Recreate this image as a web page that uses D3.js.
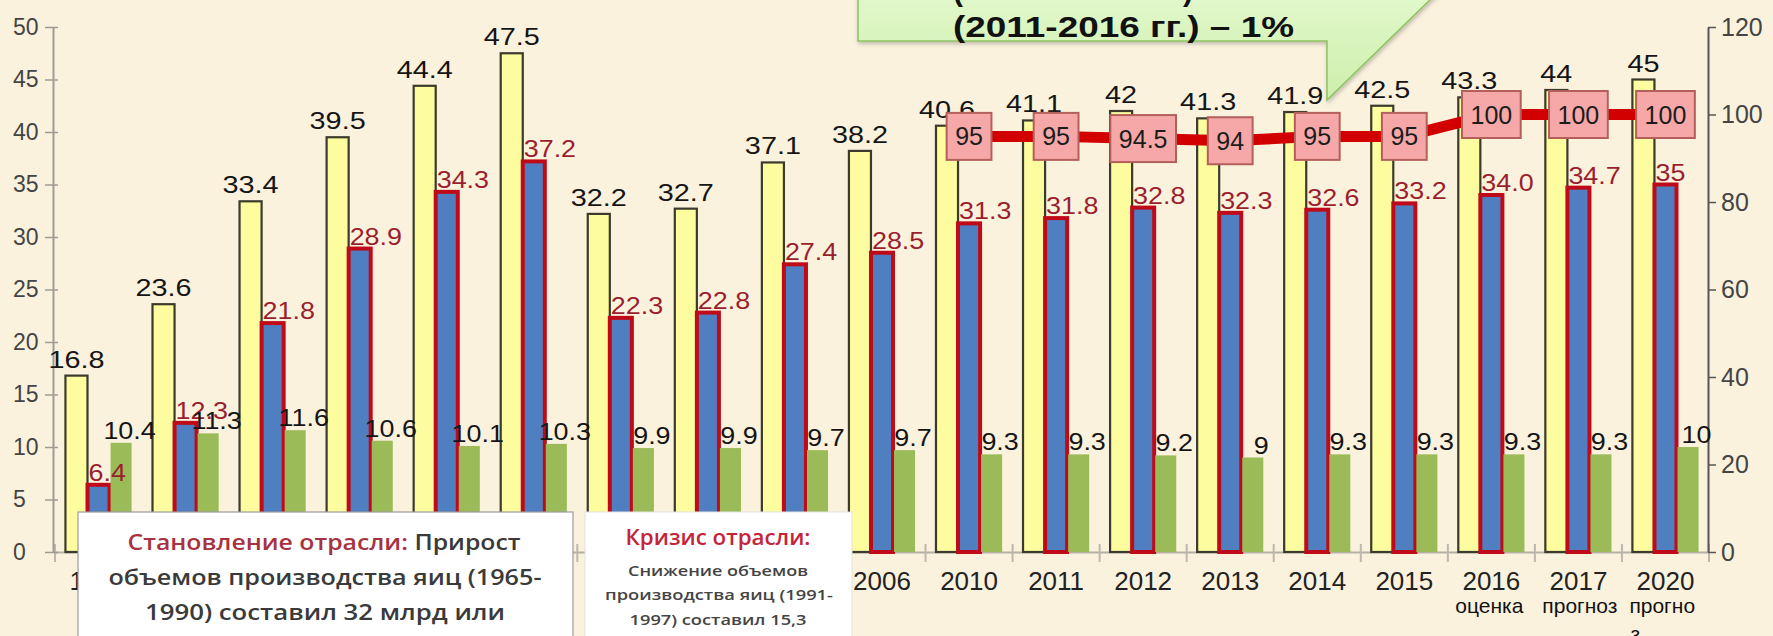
<!DOCTYPE html>
<html>
<head>
<meta charset="utf-8">
<script src="https://cdn.jsdelivr.net/npm/d3@7"></script>
<style>
  body { margin: 0; background: #fbf2de; }
  svg { display: block; }
</style>
</head>
<body>
<div id="wrapper"></div>
<script>
// chart data
const years = ["1965", "1970", "1975", "1980", "1985", "1990", "1997", "2000", "2005", "2006",
  "2010", "2011", "2012", "2013", "2014", "2015", "2016", "2017", "2020"];
const production = ["16.8", "23.6", "33.4", "39.5", "44.4", "47.5", "32.2", "32.7", "37.1", "38.2",
  "40.6", "41.1", "42", "41.3", "41.9", "42.5", "43.3", "44", "45"];
const industrial = ["6.4", "12.3", "21.8", "28.9", "34.3", "37.2", "22.3", "22.8", "27.4", "28.5",
  "31.3", "31.8", "32.8", "32.3", "32.6", "33.2", "34.0", "34.7", "35"];
const households = ["10.4", "11.3", "11.6", "10.6", "10.1", "10.3", "9.9", "9.9", "9.7", "9.7",
  "9.3", "9.3", "9.2", "9", "9.3", "9.3", "9.3", "9.3", "10"];
const lineYears = ["2010", "2011", "2012", "2013", "2014", "2015", "2016", "2017", "2020"];
const selfSufficiency = ["95", "95", "94.5", "94", "95", "95", "100", "100", "100"];
const leftTicks = [0, 5, 10, 15, 20, 25, 30, 35, 40, 45, 50];
const rightTicks = [0, 20, 40, 60, 80, 100, 120];
const noteYears = ["2016", "2017", "2020"];
const noteTexts = ["оценка", "прогноз", "прогно"];

const width = 1773, height = 636;
const margin = { top: 27, right: 64, bottom: 84, left: 54 };
const bottomY = height - margin.bottom;

const svg = d3.select("#wrapper").append("svg")
  .attr("width", width)
  .attr("height", height)
  .style("background", "#fbf2de");

const defs = svg.append("defs");
const grad = defs.append("linearGradient").attr("id", "calloutFill")
  .attr("x1", 0).attr("y1", 0).attr("x2", 0).attr("y2", 1);
grad.append("stop").attr("offset", "0%").attr("stop-color", "#e2f8cc");
grad.append("stop").attr("offset", "100%").attr("stop-color", "#cdefaa");
const shadow = defs.append("filter").attr("id", "shadow")
  .attr("x", "-5%").attr("y", "-20%").attr("width", "110%").attr("height", "150%");
shadow.append("feDropShadow").attr("dx", 1).attr("dy", 2).attr("stdDeviation", 2)
  .attr("flood-color", "#000").attr("flood-opacity", 0.25);

// scales
const x = d3.scaleBand()
  .domain(years)
  .range([55, 1709])
  .paddingInner(0.24)
  .paddingOuter(0.12);

const xSub = d3.scaleBand()
  .domain(["p", "i", "h"])
  .range([0, x.bandwidth()]);

const yLeft = d3.scaleLinear().domain([0, 50]).range([bottomY, margin.top]);
const yRight = d3.scaleLinear().domain([0, 120]).range([bottomY, margin.top]);

const numFont = "'Liberation Sans', Arial, sans-serif";

// stretch text sideways a little, the original labels are wide
function widen(sel, k) {
  sel.each(function() {
    const w = this.getComputedTextLength();
    d3.select(this).attr("textLength", w * k).attr("lengthAdjust", "spacingAndGlyphs");
  });
}

// x axis
const xAxis = svg.append("g")
  .attr("transform", `translate(0,${bottomY})`)
  .call(d3.axisBottom(x).tickSize(0).tickSizeOuter(0));
xAxis.select(".domain").attr("stroke", "#b5b0a5").attr("stroke-width", 2);
xAxis.selectAll("text")
  .attr("y", 38).attr("dy", 0)
  .style("font-family", numFont).style("font-size", "26px").attr("fill", "#222");

const boundaries = years.map(d => x(d) - x.step() * x.paddingInner() / 2)
  .concat([x.range()[1]]);
svg.append("g").selectAll("line")
  .data(boundaries)
  .join("line")
  .attr("x1", d => d).attr("x2", d => d)
  .attr("y1", bottomY - 8).attr("y2", bottomY + 10)
  .attr("stroke", "#bdb8ad").attr("stroke-width", 2);

// left axis
const leftAxis = svg.append("g")
  .attr("transform", `translate(${margin.left - 1},0)`)
  .call(d3.axisLeft(yLeft).tickValues(leftTicks).tickSizeOuter(0));
leftAxis.select(".domain").attr("stroke", "#a09c94").attr("stroke-width", 2);
leftAxis.selectAll(".tick line").attr("x1", 5).attr("x2", -8)
  .attr("stroke", "#a09c94").attr("stroke-width", 1.5);
leftAxis.selectAll("text")
  .attr("x", -40).attr("text-anchor", "start")
  .style("font-family", numFont).style("font-size", "23px").attr("fill", "#444");

// right axis
const rightAxis = svg.append("g")
  .attr("transform", `translate(${x.range()[1] - 1},0)`)
  .call(d3.axisRight(yRight).tickValues(rightTicks).tickSize(8).tickPadding(5).tickSizeOuter(0));
rightAxis.select(".domain").attr("stroke", "#555").attr("stroke-width", 2);
rightAxis.selectAll(".tick line").attr("stroke", "#555").attr("stroke-width", 1.5);
rightAxis.selectAll("text")
  .style("font-family", numFont).style("font-size", "25px").attr("fill", "#444");

// bars
const bars = svg.append("g");
bars.selectAll(".prod")
  .data(years)
  .join("rect")
  .attr("x", (d, i) => x(d) + xSub("p"))
  .attr("y", (d, i) => yLeft(+production[i]))
  .attr("width", xSub.bandwidth())
  .attr("height", (d, i) => bottomY - yLeft(+production[i]))
  .attr("fill", "#fdfc9e")
  .attr("stroke", "#3b3a2c")
  .attr("stroke-width", 2.2);

bars.selectAll(".ind")
  .data(years)
  .join("rect")
  .attr("x", (d, i) => x(d) + xSub("i"))
  .attr("y", (d, i) => yLeft(+industrial[i]))
  .attr("width", xSub.bandwidth())
  .attr("height", (d, i) => bottomY - yLeft(+industrial[i]))
  .attr("fill", "#4f7fc1")
  .attr("stroke", "#bf0a1a")
  .attr("stroke-width", 4);

bars.selectAll(".hh")
  .data(years)
  .join("rect")
  .attr("x", (d, i) => x(d) + xSub("h") + 1)
  .attr("y", (d, i) => yLeft(+households[i]))
  .attr("width", xSub.bandwidth() - 1)
  .attr("height", (d, i) => bottomY - yLeft(+households[i]))
  .attr("fill", "#9bbb59");

// value labels
const labels = svg.append("g").style("font-family", numFont).style("font-size", "24px");
labels.selectAll(".lp")
  .data(years)
  .join("text")
  .attr("x", d => x(d) + xSub("p") + xSub.bandwidth() / 2)
  .attr("y", (d, i) => yLeft(+production[i]) - 8)
  .attr("text-anchor", "middle")
  .attr("fill", "#151515")
  .text((d, i) => production[i])
  .call(widen, 1.2);

labels.selectAll(".li")
  .data(years)
  .join("text")
  .attr("x", d => x(d) + xSub("i") + 1)
  .attr("y", (d, i) => yLeft(+industrial[i]) - 4)
  .attr("fill", "#9a1f2e")
  .text((d, i) => industrial[i])
  .call(widen, 1.12);

labels.selectAll(".lh")
  .data(years)
  .join("text")
  .attr("x", d => x(d) + xSub("h") + xSub.bandwidth() / 2 + 9)
  .attr("y", (d, i) => yLeft(+households[i]) - 4)
  .attr("text-anchor", "middle")
  .attr("fill", "#151515")
  .text((d, i) => households[i])
  .call(widen, 1.12);

// line on right axis
const cx = d => x(d) + x.bandwidth() / 2;
const line = d3.line()
  .x((d, i) => cx(lineYears[i]))
  .y(d => yRight(+d));
svg.append("path")
  .datum(selfSufficiency)
  .attr("d", line)
  .attr("fill", "none")
  .attr("stroke", "#d20000")
  .attr("stroke-width", 11);

const markers = svg.append("g").selectAll("g")
  .data(selfSufficiency)
  .join("g")
  .attr("transform", (d, i) => `translate(${cx(lineYears[i])},${yRight(+d)})`);
markers.append("rect").attr("class", "box");
markers.append("text")
  .attr("text-anchor", "middle")
  .attr("dy", "0.36em")
  .style("font-family", numFont).style("font-size", "25px")
  .attr("fill", "#1c1c1c")
  .text(d => d);
markers.each(function() {
  const g = d3.select(this);
  const w = g.select("text").node().getComputedTextLength() + 17;
  g.select("rect")
    .attr("x", -w / 2).attr("y", -23.5)
    .attr("width", w).attr("height", 47)
    .attr("fill", "#f5a8a7")
    .attr("stroke", "#b3605c")
    .attr("stroke-width", 2);
});

// forecast notes under the axis
const notes = svg.append("g").style("font-family", numFont).style("font-size", "21px").attr("fill", "#111");
notes.selectAll("text")
  .data(noteYears)
  .join("text")
  .attr("x", d => x(d) - 3)
  .attr("y", 613)
  .text((d, i) => noteTexts[i]);
notes.append("text")
  .attr("x", x("2020") - 2)
  .attr("y", 641)
  .text("з");

// annotation boxes
const boxFont = "'Open Sans', 'Noto Sans', sans-serif";
function fitText(g, xc, y, size, len, parts, weight) {
  const t = g.append("text")
    .attr("x", xc).attr("y", y)
    .attr("text-anchor", "middle")
    .attr("textLength", len)
    .attr("lengthAdjust", "spacingAndGlyphs")
    .style("font-family", boxFont)
    .style("font-size", size + "px")
    .style("font-weight", weight);
  parts.forEach(p => t.append("tspan").attr("fill", p[1]).text(p[0]));
}

const box1 = svg.append("g");
box1.append("rect")
  .attr("x", 78).attr("y", 512).attr("width", 495).attr("height", 140)
  .attr("fill", "#fff").attr("stroke", "#9c9c9c").attr("stroke-width", 1.2);
fitText(box1, 324, 550, 22, 393, [["Становление отрасли: ", "#a8323f"], ["Прирост", "#3a3a3a"]], 600);
fitText(box1, 325, 585, 22, 433, [["объемов производства яиц (1965-", "#3a3a3a"]], 600);
fitText(box1, 325, 620, 22, 360, [["1990) составил 32 млрд  или", "#3a3a3a"]], 600);

const box2 = svg.append("g");
box2.append("rect")
  .attr("x", 585).attr("y", 512).attr("width", 267).attr("height", 140)
  .attr("fill", "#fff").attr("stroke", "#e2e2e2").attr("stroke-width", 1);
fitText(box2, 718, 545, 21, 185, [["Кризис отрасли:", "#c4243a"]], 600);
fitText(box2, 718, 576, 15, 180, [["Снижение объемов", "#444"]], 600);
fitText(box2, 719, 600, 15, 228, [["производства яиц (1991-", "#444"]], 600);
fitText(box2, 718, 625, 15, 177, [["1997) составил 15,3", "#444"]], 600);

// callout at the top
const callout = svg.append("g");
callout.append("path")
  .attr("d", "M858,-6 L1436,-6 L1327,100 L1327,41 L858,41 Z")
  .attr("fill", "url(#calloutFill)")
  .attr("stroke", "#8cc260")
  .attr("stroke-width", 1.5)
  .attr("filter", "url(#shadow)");
callout.append("text")
  .attr("x", 953).attr("y", 37)
  .attr("textLength", 341)
  .attr("lengthAdjust", "spacingAndGlyphs")
  .style("font-family", numFont).style("font-size", "30px").style("font-weight", "bold")
  .attr("fill", "#111")
  .text("(2011-2016 гг.) – 1%");
callout.selectAll(".paren")
  .data(["(", ")"])
  .join("text")
  .attr("x", (d, i) => i ? 1183 : 953)
  .attr("y", 1)
  .style("font-family", numFont).style("font-size", "30px").style("font-weight", "bold")
  .attr("fill", "#111")
  .text(d => d);
</script>
</body>
</html>
